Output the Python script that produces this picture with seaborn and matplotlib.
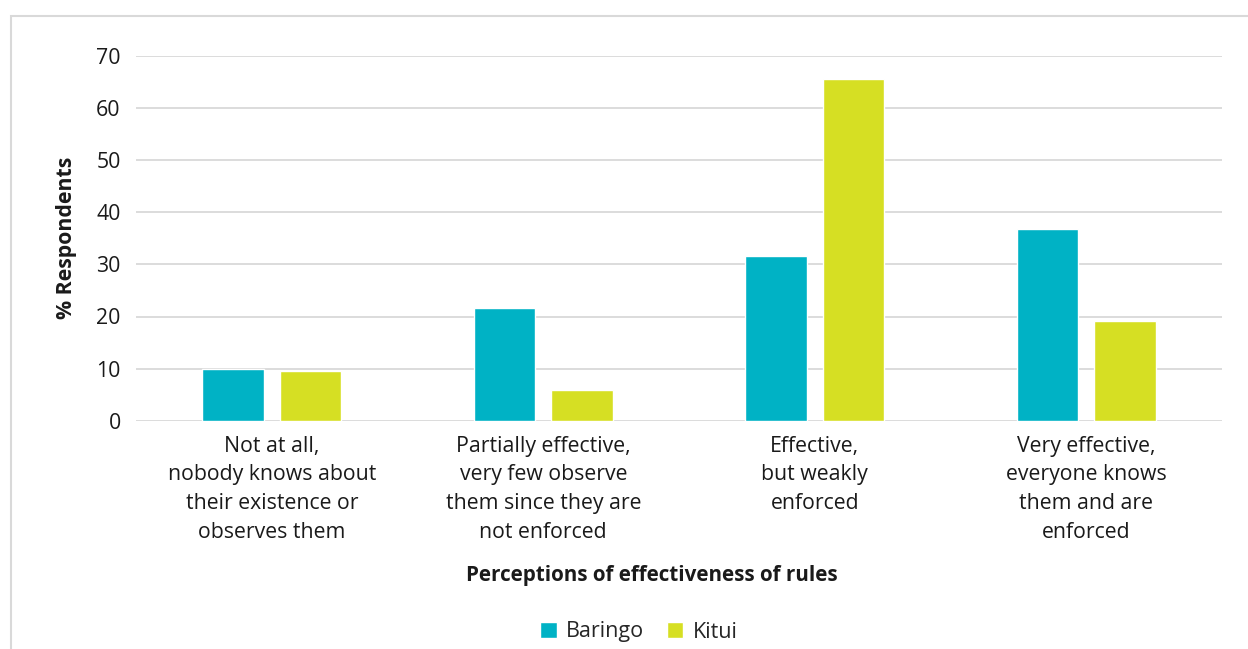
import matplotlib
matplotlib.use("Agg")
import matplotlib.pyplot as plt
from matplotlib.patches import Rectangle
import seaborn as sns
import pandas as pd

categories = [
    "Not at all,\nnobody knows about\ntheir existence or\nobserves them",
    "Partially effective,\nvery few observe\nthem since they are\nnot enforced",
    "Effective,\nbut weakly\nenforced",
    "Very effective,\neveryone knows\nthem and are\nenforced",
]
regions = ["Baringo", "Kitui"]
baringo = [10.0, 21.7, 31.7, 36.7]
kitui = [9.6, 5.8, 65.5, 19.2]
colors = ["#00B2C5", "#D6DF23"]
y_ticks = [0, 10, 20, 30, 40, 50, 60, 70]

df = pd.DataFrame({
    "category": categories * 2,
    "region": [regions[0]] * 4 + [regions[1]] * 4,
    "value": baringo + kitui,
})

sns.set_theme(style="white")
plt.rcParams["font.family"] = ["Open Sans", "DejaVu Sans"]

W, H = 1248, 649
fig = plt.figure(figsize=(W / 100, H / 100), dpi=100)
ax = fig.add_axes([136 / W, 1 - 420.7 / H, (1222 - 136) / W, (420.7 - 56) / H])

sns.barplot(data=df, x="category", y="value", hue="region", palette=colors,
            width=0.57, gap=0.21, saturation=1, ax=ax, legend=True)

ax.set_ylim(0, 70)
ax.set_yticks(y_ticks)
ax.set_xlim(-0.5, 3.5)
ax.yaxis.grid(True, color="#d9d9d9", linewidth=1.3)
ax.set_axisbelow(True)
for s in ax.spines.values():
    s.set_visible(False)
ax.tick_params(axis="both", length=0, labelsize=15.3, colors="#1a1a1a")
ax.tick_params(axis="y", pad=11)
ax.tick_params(axis="x", pad=11)
for lbl in ax.get_xticklabels():
    lbl.set_linespacing(1.47)
ax.set_xlabel("")
ax.set_ylabel("% Respondents", fontsize=15.3, fontweight="bold", color="#1a1a1a", labelpad=14)

handles, labels = ax.get_legend_handles_labels()
ax.get_legend().remove()
fig.legend(handles, labels, loc="center", bbox_to_anchor=(639 / W, 1 - 632 / H),
           ncol=2, frameon=False, fontsize=15.5, handlelength=0.75, handleheight=0.75,
           handletextpad=0.45, columnspacing=1.05)

fig.text(652 / W, 1 - 576 / H, "Perceptions of effectiveness of rules",
         ha="center", va="center", fontsize=14.9, fontweight="bold", color="#1a1a1a")

fig.patches.append(Rectangle((11 / W, -0.1), 2.0, 1 - 16 / H + 0.1,
                             transform=fig.transFigure, fill=False,
                             edgecolor="#d9d9d9", linewidth=1.5, figure=fig))

fig.savefig("out.png", dpi=100)
